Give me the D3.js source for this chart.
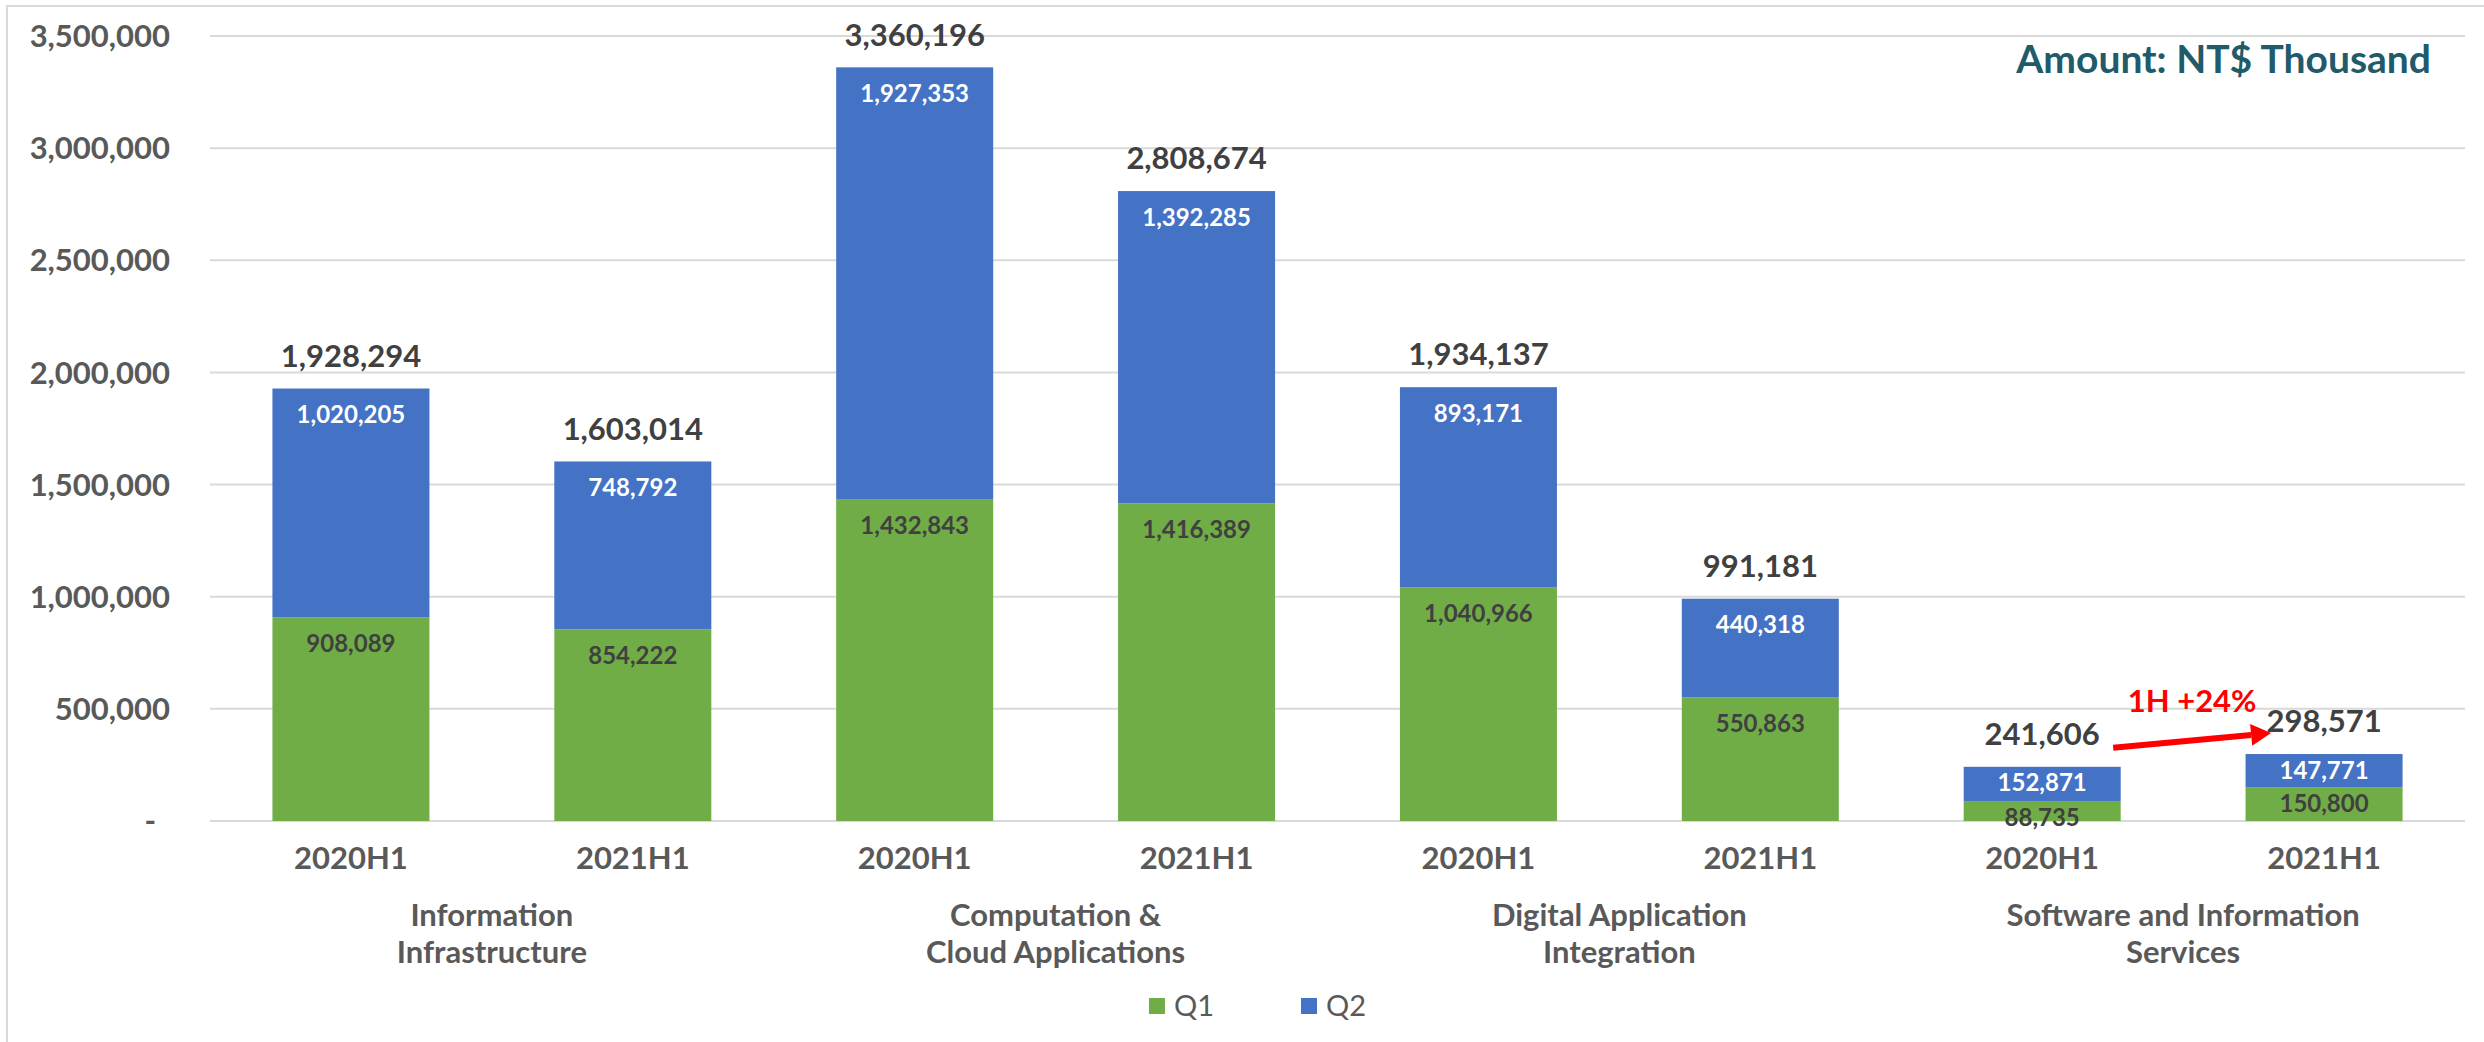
<!DOCTYPE html>
<html>
<head>
<meta charset="utf-8">
<script src="https://cdn.jsdelivr.net/npm/d3@7"></script>
<style>
  html, body { margin: 0; padding: 0; background: #ffffff; }
  svg { display: block; }
  text { font-family: Lato, "Open Sans", sans-serif; }
</style>
</head>
<body>
<svg id="chart" width="2484" height="1042"></svg>
<script>
// ---------- data ----------
const groups = [
  ["Information", "Infrastructure"],
  ["Computation &", "Cloud Applications"],
  ["Digital Application", "Integration"],
  ["Software and Information", "Services"]
];
const periods = ["2020H1", "2021H1"];
const q1 = [908089, 854222, 1432843, 1416389, 1040966, 550863, 88735, 150800];
const q2 = [1020205, 748792, 1927353, 1392285, 893171, 440318, 152871, 147771];
const yTicks = [0, 500000, 1000000, 1500000, 2000000, 2500000, 3000000, 3500000];
const seriesNames = ["Q1", "Q2"];
const unitLabel = "Amount: NT$ Thousand";
const growthLabel = "1H +24%";

// ---------- layout ----------
const W = 2484, H = 1042;
const colors = { Q1: "#70AD47", Q2: "#4472C4" };
const svg = d3.select("#chart");

const bars = [];
groups.forEach((g, gi) => periods.forEach((p, pi) => {
  const i = gi * periods.length + pi;
  bars.push({ i, gi, period: p, q1: q1[i], q2: q2[i], total: q1[i] + q2[i] });
}));

const x = d3.scaleBand()
  .domain(bars.map(d => d.i))
  .range([210, 2465])
  .paddingInner(0.443)
  .paddingOuter(0.2215);
const y = d3.scaleLinear().domain([0, 3500000]).range([821, 36]);

const fmt = d3.format(",");

// chart border
svg.append("rect")
  .attr("x", 7).attr("y", 6).attr("width", W + 20).attr("height", H + 20)
  .attr("fill", "none").attr("stroke", "#d9d9d9").attr("stroke-width", 2);

// gridlines
svg.append("g").selectAll("line").data(yTicks).join("line")
  .attr("x1", 210).attr("x2", 2465)
  .attr("y1", d => y(d)).attr("y2", d => y(d))
  .attr("stroke", "#d9d9d9").attr("stroke-width", 2);

// y tick labels
svg.append("g").selectAll("text").data(yTicks).join("text")
  .attr("x", d => d === 0 ? 156 : 170)
  .attr("y", d => y(d))
  .attr("dy", "0.36em")
  .attr("text-anchor", "end")
  .attr("font-size", 31).attr("font-weight", 700)
  .attr("fill", "#595959")
  .text(d => d === 0 ? "-" : fmt(d));

// stacked bars
const gBars = svg.append("g");
gBars.selectAll("rect.q1").data(bars).join("rect")
  .attr("class", "q1")
  .attr("x", d => x(d.i)).attr("width", x.bandwidth())
  .attr("y", d => y(d.q1)).attr("height", d => y(0) - y(d.q1))
  .attr("fill", colors.Q1);
gBars.selectAll("rect.q2").data(bars).join("rect")
  .attr("class", "q2")
  .attr("x", d => x(d.i)).attr("width", x.bandwidth())
  .attr("y", d => y(d.total)).attr("height", d => y(d.q1) - y(d.total))
  .attr("fill", colors.Q2);

function insideDy(h) { return h > 80 ? 26 : 16; }

// Q1 labels
svg.append("g").selectAll("text").data(bars).join("text")
  .attr("x", d => x(d.i) + x.bandwidth() / 2)
  .attr("y", d => y(d.q1) + insideDy(y(0) - y(d.q1)))
  .attr("dy", "0.36em")
  .attr("text-anchor", "middle")
  .attr("font-size", 24).attr("font-weight", 700)
  .attr("fill", "#404040")
  .text(d => fmt(d.q1));

// Q2 labels
svg.append("g").selectAll("text").data(bars).join("text")
  .attr("x", d => x(d.i) + x.bandwidth() / 2)
  .attr("y", d => y(d.total) + insideDy(y(d.q1) - y(d.total)))
  .attr("dy", "0.36em")
  .attr("text-anchor", "middle")
  .attr("font-size", 24).attr("font-weight", 700)
  .attr("fill", "#ffffff")
  .text(d => fmt(d.q2));

// totals
svg.append("g").selectAll("text").data(bars).join("text")
  .attr("x", d => x(d.i) + x.bandwidth() / 2)
  .attr("y", d => y(d.total) - 33)
  .attr("dy", "0.36em")
  .attr("text-anchor", "middle")
  .attr("font-size", 31).attr("font-weight", 700)
  .attr("fill", "#404040")
  .text(d => fmt(d.total));

// x period labels
svg.append("g").selectAll("text").data(bars).join("text")
  .attr("x", d => x(d.i) + x.bandwidth() / 2)
  .attr("y", 858)
  .attr("dy", "0.36em")
  .attr("text-anchor", "middle")
  .attr("font-size", 31).attr("font-weight", 700)
  .attr("fill", "#595959")
  .text(d => d.period);

// group labels
const gl = svg.append("g").selectAll("text").data(groups).join("text")
  .attr("text-anchor", "middle")
  .attr("font-size", 31).attr("font-weight", 700)
  .attr("fill", "#595959");
gl.each(function (lines, gi) {
  const cx = (x(gi * 2) + x(gi * 2 + 1) + x.bandwidth()) / 2;
  d3.select(this).selectAll("tspan").data(lines).join("tspan")
    .attr("x", cx)
    .attr("y", (l, li) => 915 + li * 37)
    .attr("dy", "0.36em")
    .text(l => l);
});

// legend
const legend = svg.append("g");
const legX = [1149, 1301];
seriesNames.forEach((s, si) => {
  legend.append("rect")
    .attr("x", legX[si]).attr("y", 998).attr("width", 16).attr("height", 16)
    .attr("fill", colors[s]);
  legend.append("text")
    .attr("x", legX[si] + 25).attr("y", 1006).attr("dy", "0.36em")
    .attr("font-size", 29).attr("fill", "#595959")
    .text(s);
});

// unit label
svg.append("text")
  .attr("x", 2431).attr("y", 73)
  .attr("text-anchor", "end")
  .attr("font-size", 39).attr("font-weight", 700)
  .attr("fill", "#215A69")
  .text(unitLabel);

// growth annotation (between last two bars)
const b7 = bars[6], b8 = bars[7];
const x7c = x(b7.i) + x.bandwidth() / 2, x8c = x(b8.i) + x.bandwidth() / 2;
const sx = x7c + 71, sy = y(b7.total) - 19;
const ex = x8c - 53, ey = y(b8.total) - 21;
const ang = Math.atan2(ey - sy, ex - sx);
const headLen = 20, headW = 11;
const bx = ex - headLen * Math.cos(ang), by = ey - headLen * Math.sin(ang);
svg.append("line")
  .attr("x1", sx).attr("y1", sy).attr("x2", bx).attr("y2", by)
  .attr("stroke", "#FF0000").attr("stroke-width", 6);
svg.append("path")
  .attr("d", `M${ex},${ey} L${bx - headW * Math.sin(ang)},${by + headW * Math.cos(ang)} L${bx + headW * Math.sin(ang)},${by - headW * Math.cos(ang)} Z`)
  .attr("fill", "#FF0000");
svg.append("text")
  .attr("x", (x7c + x8c) / 2 + 9).attr("y", 712)
  .attr("text-anchor", "middle")
  .attr("font-size", 31).attr("font-weight", 700)
  .attr("fill", "#FF0000")
  .text(growthLabel);
</script>
</body>
</html>
